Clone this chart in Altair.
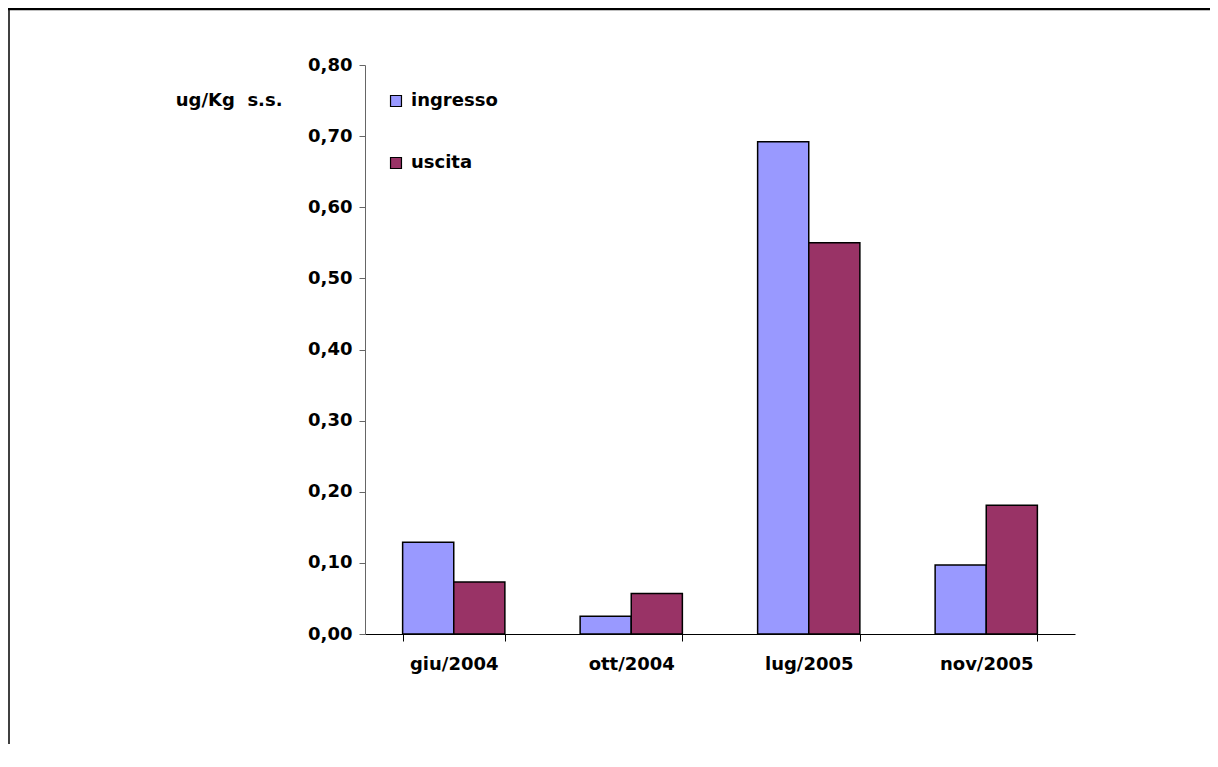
import altair as alt
import pandas as pd

categories = ["giu/2004", "ott/2004", "lug/2005", "nov/2005"]
series = ["ingresso", "uscita"]
ingresso = [0.129, 0.025, 0.692, 0.097]
uscita = [0.073, 0.057, 0.550, 0.181]
colors = ["#9999FF", "#993366"]

rows = []
for i, c in enumerate(categories):
    rows.append({"cat": c, "serie": "ingresso", "val": ingresso[i]})
    rows.append({"cat": c, "serie": "uscita", "val": uscita[i]})
df = pd.DataFrame(rows)

FONT = "DejaVu Sans"
FS = 18

bars = alt.Chart(df).mark_bar(stroke="black", strokeWidth=1.5).encode(
    x=alt.X("cat:N", sort=categories,
            scale=alt.Scale(paddingInner=0.424, paddingOuter=0.212),
            axis=alt.Axis(title=None, labelAngle=0, tickBand="extent", tickSize=7,
                          labelPadding=14, labelFont=FONT, labelFontSize=FS,
                          labelFontWeight="bold", labelColor="black",
                          domainColor="black", tickColor="black", grid=False)),
    xOffset=alt.XOffset("serie:N", sort=series, scale=alt.Scale(paddingInner=0, paddingOuter=0)),
    y=alt.Y("val:Q", scale=alt.Scale(domain=[0, 0.8], nice=False),
            axis=alt.Axis(title="ug/Kg\u00a0\u00a0s.s.", titleAngle=0, titleX=-83, titleY=35,
                          titleAlign="right", titleBaseline="middle",
                          titleFont=FONT, titleFontSize=FS, titleFontWeight="bold",
                          titleColor="black",
                          values=[0, 0.1, 0.2, 0.3, 0.4, 0.5, 0.6, 0.7, 0.8],
                          labelExpr="replace(format(datum.value, '.2f'), '.', ',')",
                          labelFont=FONT, labelFontSize=FS, labelFontWeight="bold",
                          labelColor="black", tickSize=6, labelPadding=7,
                          domainColor="#666666", tickColor="#666666", grid=False)),
    color=alt.Color("serie:N", sort=series,
                    scale=alt.Scale(domain=series, range=colors),
                    legend=alt.Legend(title=None, orient="none", legendX=22, legendY=27,
                                      symbolType="square", symbolSize=120,
                                      symbolStrokeColor="black", symbolStrokeWidth=1.2,
                                      labelExpr="datum.label == 'ingresso' ? '\u00a0ingresso' : datum.label",
                                      labelFont=FONT, labelFontSize=FS,
                                      labelFontWeight="bold", labelColor="black",
                                      rowPadding=44, labelOffset=6)),
)

border_df = pd.DataFrame({"k": [0]})
top_line = alt.Chart(border_df).mark_rule(color="black", strokeWidth=2.5).encode(
    x=alt.value(-357), x2=alt.value(900), y=alt.value(-56))
left_line = alt.Chart(border_df).mark_rule(color="black", strokeWidth=1.5).encode(
    x=alt.value(-356), y=alt.value(-56), y2=alt.value(700))

chart = alt.layer(bars, top_line, left_line).properties(
    width=710, height=569,
    autosize=alt.AutoSizeParams(type="none"),
    padding={"left": 357, "top": 57, "right": 135, "bottom": 110},
).configure(font=FONT, view=alt.ViewConfig(stroke=None))

chart.save("out.html", embed_options={"renderer": "svg", "actions": False})
